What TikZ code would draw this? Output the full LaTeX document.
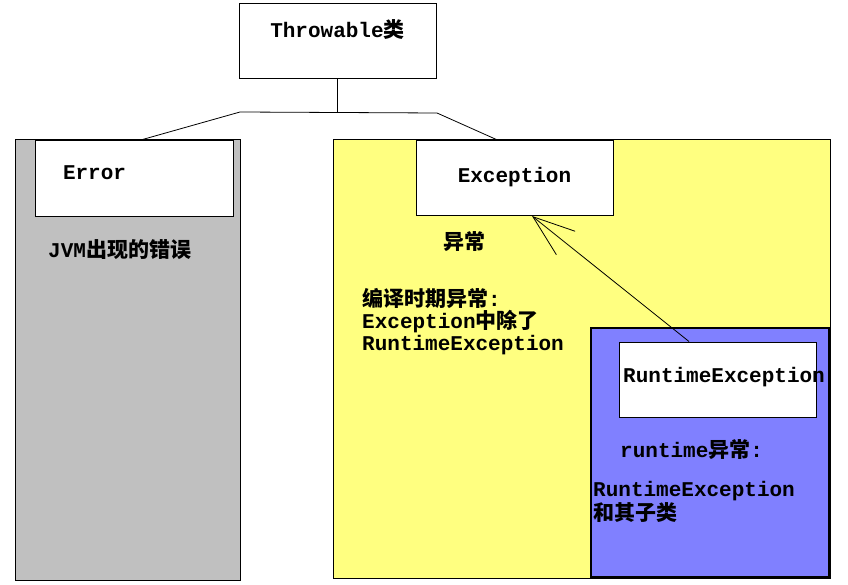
\documentclass[tikz,border=0pt]{standalone}
\usepackage{fontspec}
\setmainfont{Liberation Mono}
\newfontfamily\zhfont{Noto Sans CJK SC}
\usetikzlibrary{arrows.meta}
\newcommand{\zh}[1]{{\zhfont #1}}
\definecolor{errgray}{HTML}{C0C0C0}
\definecolor{excyellow}{HTML}{FFFF80}
\definecolor{rteblue}{HTML}{8080FF}

\begin{document}
\begin{tikzpicture}[x=1pt,y=-1pt,
    font=\bfseries\fontsize{21}{22}\selectfont,
    clsbox/.style={draw,line width=1pt,fill=white,minimum width=197pt,minimum height=75pt},
    txt/.style={anchor=west,align=left,inner sep=0pt},
    link/.style={line width=0.8pt}]
			\useasboundingbox (0,0) rectangle (848,585);
			% the three areas
			\draw[fill=errgray,line width=1pt] (15,140) rectangle (240,580);
			\draw[fill=excyellow,line width=1pt] (333,140) rectangle (830,578);
			\draw[fill=rteblue,line width=1.6pt] (591,328) rectangle (829,577);
			% class boxes
			\node[clsbox,text depth=26pt] (throwable) at (337.5,41.5) {Throwable\zh{类}};
			\node[clsbox,minimum width=198pt,text width=142pt,minimum height=76pt,text depth=12pt] (error) at (134,179) {Error};
			\node[clsbox,text depth=6pt] (exception) at (514.5,178) {Exception};
			\node[clsbox] (rte) at (718,379.5) {};
			\node[txt] (rtename) at (623,377) {RuntimeException};
			% tree lines
			\coordinate (jl) at (240,112);
			\coordinate (jr) at (437,113);
			\draw[link] (throwable.south) -- (throwable.south |- jr);
			\draw[link] ([xshift=5pt]error.north) -- (jl) -- (jr) -- ([xshift=-17pt]exception.north);
			\draw[link,-{Straight Barb[length=42pt,width=30pt]}] ([xshift=-29pt]rte.north) -- ([xshift=17.5pt]exception.south);
			% texts
			\node[txt] (jvm) at (48,250) {JVM\zh{出现的错误}};
			\node[txt] (exclabel) at (443,242) {\zh{异常}};
			\node[txt] (checked) at (362,322) {\zh{编译时期异常}:\\Exception\zh{中除了}\\RuntimeException};
			\node[txt] (rtlabel) at (620,450) {runtime\zh{异常}:};
			\node[txt] (rtsub) at (593,502) {RuntimeException\\\zh{和其子类}};
		\end{tikzpicture}
\end{document}
